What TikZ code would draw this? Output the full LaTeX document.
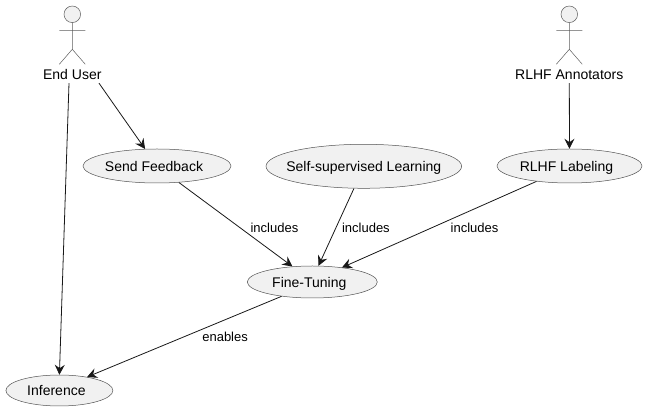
\documentclass[tikz,border=0pt]{standalone}
\usepackage{fontspec}
\setmainfont{Liberation Sans}
\usetikzlibrary{shapes.geometric,arrows.meta}
\definecolor{umlfill}{HTML}{F1F1F1}
\definecolor{umlline}{HTML}{181818}
\tikzset{
	usecase/.style={ellipse, draw=umlline!75, line width=0.5pt, fill=umlfill, inner sep=-12pt, minimum height=#1, text height=10.5pt, text depth=0pt, font=\fontsize{14}{16}\selectfont},
	usecase/.default=34pt,
	offcentre/.style={execute at begin node={\hskip-6pt}},
	actorname/.style={inner sep=0pt, minimum height=16pt, text height=10pt, text depth=0pt, font=\fontsize{14}{16}\selectfont},
	actorline/.style={draw=umlline!70, line width=0.5pt},
	link/.style={draw=umlline, line width=0.8pt, -{Stealth[length=10pt,width=10pt,inset=3.5pt]}},
	linklabel/.style={inner sep=0pt, anchor=west, font=\fontsize{13}{15}\selectfont}
}
\begin{document}
\begin{tikzpicture}[x=1pt,y=-1pt]
	\useasboundingbox (0,0) rectangle (646,411);

	%stick figures
	\foreach \ax in {72.3,569.3} {
		\draw[actorline, fill=umlfill] (\ax,14.3) circle (8.3);
		\draw[actorline] (\ax,22.6) -- (\ax,49.3) (\ax-13,30.3) -- (\ax+13,30.3) (\ax-13,64.3) -- (\ax,49.3) -- (\ax+13,64.3);
	}
	\node[actorname] (enduser) at (72.3,75) {End User};
	\node[actorname] (annotators) at (569.3,75) {RLHF Annotators};

	%use cases
	\node[usecase, offcentre, minimum width=148pt] (feedback) at (157,166) {Send Feedback};
	\node[usecase=44pt, minimum width=195.6pt] (selfsup) at (363.8,166.3) {Self-supervised Learning};
	\node[usecase, offcentre, minimum width=145pt] (labeling) at (569.5,166) {RLHF Labeling};
	\node[usecase=32pt, offcentre, minimum width=130pt] (finetuning) at (312.3,282) {Fine-Tuning};
	\node[usecase=31pt, offcentre, minimum width=107pt] (inference) at (59.4,390.5) {Inference};

	%connectors
	\draw[link] ([xshift=-3.3pt]enduser.south) -- (inference.90);
	\draw[link] ([xshift=26.7pt]enduser.south) -- (feedback.125.5);
	\draw[link] (annotators.south) -- (labeling.north);
	\draw[link] (feedback.-37.4) -- node[linklabel, pos=0.536, xshift=10.4pt] {includes} (finetuning.142);
	\draw[link] (selfsup.246.5) -- node[linklabel, pos=0.508, xshift=5.7pt] {includes} (finetuning.69);
	\draw[link] (labeling.205) -- node[linklabel, pos=0.534, xshift=17.7pt] {includes} (finetuning.26.6);
	\draw[link] (finetuning.205) -- node[linklabel, pos=0.502, xshift=18pt] {enables} (inference.26);
\end{tikzpicture}
\end{document}
